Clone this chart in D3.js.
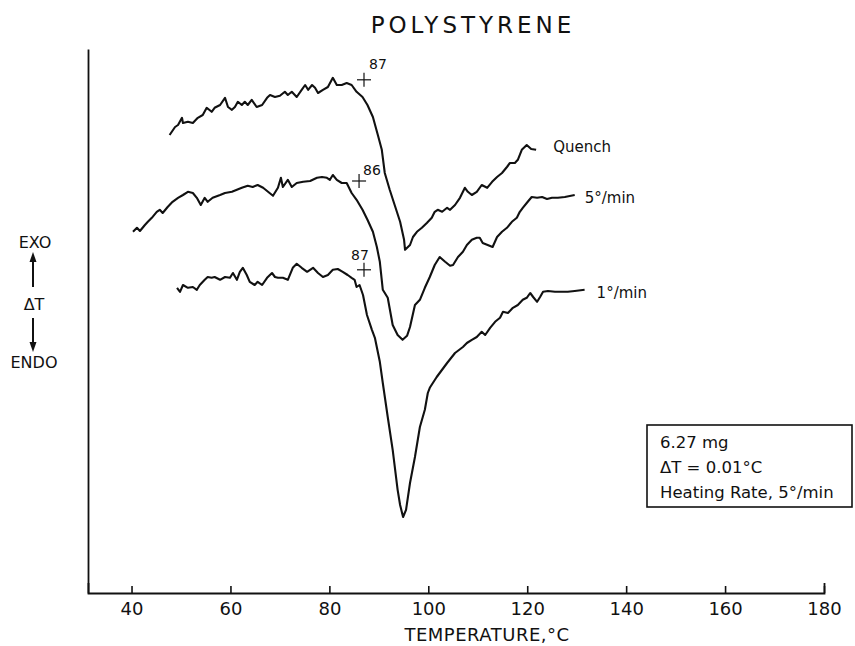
<!DOCTYPE html>
<html>
<head>
<meta charset="utf-8">
<script src="https://cdn.jsdelivr.net/npm/d3@7"></script>
<style>
  body { margin: 0; background: #fff; }
  svg text { font-family: "DejaVu Sans", sans-serif; fill: #111; }
</style>
</head>
<body>
<svg id="chart" width="855" height="646"></svg>
<script>
// temperature axis ticks (deg C)
var tempTicks = [40, 60, 80, 100, 120, 140, 160, 180];
var curveNames = ["Quench", "5\u00b0/min", "1\u00b0/min"];

// traces: [temperature degC, deflection (arbitrary chart units)]
var quench = [
  [47.7,114.5],[48.8,116.5],[49.4,117],[50.2,118.8],[50.4,117.5],[51.4,117.8],[52.4,117.5],
  [53.4,118.8],[54.4,119.5],[55.2,121.3],[56.2,120.3],[56.8,121.3],[57.9,122],[58.9,123.8],
  [59.5,121.5],[60.3,120.8],[60.9,121.5],[61.5,122.8],[62.3,122],[62.9,122.8],[63.5,122],
  [64.3,123.3],[65.3,121.5],[66.4,122],[67.4,123.8],[68.0,124.5],[69.0,124],[70.0,124.3],
  [71.0,125.3],[71.6,124.5],[72.4,125.3],[73.4,124],[74.4,125.8],[75.1,127],[75.7,125.8],
  [76.5,127],[77.1,126.3],[77.7,125],[78.7,125.8],[79.7,126.5],[80.7,128.8],[81.5,127],
  [82.5,127],[83.5,127.5],[84.5,127],[85.5,125.3],[86.7,124],[87.7,122],[88.8,119],
  [89.8,114.5],[90.6,110.8],[91.2,105],[92.2,100.8],[93.2,97],[94.3,92.8],[95.1,88.3],
  [95.3,85.8],[96.3,87],[96.9,89],[97.7,90.3],[98.7,91.3],[99.7,92.5],[100.7,93.8],
  [101.3,95.3],[101.9,95.8],[102.8,95.3],[103.8,96.3],[104.4,95.8],[105.4,97],[106.4,98.8],
  [107.4,101.3],[108.0,100.3],[108.8,99.5],[109.8,100.3],[110.8,102],[111.9,101.3],
  [112.9,102.8],[113.9,104],[114.9,105],[115.9,106.5],[116.5,107.5],[117.5,107.5],
  [118.1,108.3],[118.9,110.8],[119.9,112],[120.8,111],[121.8,110.8]
];
var rate5 = [
  [40.3,90.3],[41.1,91.3],[41.7,90.5],[42.7,92],[43.3,92.8],[44.1,93.8],[45.1,95.3],
  [45.7,95.8],[46.3,95],[47.3,96.5],[48.3,97.8],[49.4,98.8],[50.4,99.5],[51.4,100.3],
  [52.4,100],[53.2,98.8],[54.0,97],[54.8,98.8],[55.4,97.8],[56.4,98.8],[57.9,99.5],
  [58.9,100],[60.3,100.3],[61.3,100.8],[62.3,101.3],[63.5,101.8],[64.5,101.5],[65.5,102],
  [66.6,101.3],[67.6,100.3],[68.6,99.3],[69.6,101.3],[70.2,103.8],[70.6,101.5],[71.6,103.3],
  [72.4,101.5],[73.4,102.5],[74.7,102.8],[76.1,103],[77.5,103.8],[78.5,104],[79.5,103.8],
  [80.1,103.3],[80.7,104.5],[81.5,103.3],[82.5,102.5],[83.5,102.5],[84.5,100],[85.5,98.3],
  [86.7,95.8],[87.7,93.3],[88.8,90.3],[89.6,86.5],[90.2,82.8],[90.8,75.8],[91.8,73.8],
  [92.8,67],[93.8,64.5],[94.8,63.3],[95.7,64.3],[96.3,66.5],[97.3,72],[98.3,73.3],
  [99.3,76.3],[100.3,79],[101.3,82],[102.3,84],[103.4,82.8],[104.4,81.8],[105.0,82],
  [106.0,84],[107.0,85.3],[107.8,87],[108.8,88.3],[109.8,88.8],[110.4,88.8],[111.0,87.5],
  [112.0,87],[113.0,86.5],[113.9,89],[114.9,90.3],[115.9,91.3],[116.9,92.8],[117.9,93.8],
  [118.5,95.3],[119.1,96.3],[119.9,97.5],[120.9,99],[122.0,98.8],[123.0,99],[124.0,98.5],
  [125.0,98.8],[126.2,98.8],[127.6,99],[129.6,99.5]
];
var rate1 = [
  [49.2,76.3],[49.8,75.3],[50.4,77],[51.4,76.3],[52.4,76.5],[53.2,75.8],[53.8,77],
  [54.8,78.3],[55.4,79],[56.2,78.8],[56.8,79],[57.9,78.3],[58.9,79],[59.9,78.8],[60.5,80],
  [61.3,78.3],[61.9,80.3],[62.5,81.3],[63.3,79.5],[63.9,77.8],[64.9,77],[65.5,77.8],
  [66.4,77],[67.4,78.8],[68.4,80],[69.0,79],[69.6,78.8],[70.6,78.8],[71.6,78.3],[72.6,81.3],
  [73.4,82.3],[74.4,81.3],[75.5,80.3],[76.7,81.3],[77.7,80],[78.7,79],[79.7,79.5],
  [80.7,80.8],[81.7,81],[82.7,80.3],[83.7,79.5],[84.5,78.8],[85.1,78.3],[85.5,76.5],
  [86.1,77],[86.8,74.5],[87.6,69.5],[88.6,65.8],[89.2,63.8],[90.2,57.8],[90.8,52.5],
  [91.8,44],[92.8,35.8],[93.8,25.8],[94.3,22],[94.9,19],[95.5,20.8],[96.3,27.5],[97.3,34],
  [98.3,41.5],[99.3,45.8],[99.9,50],[100.3,51.3],[101.7,54],[103.8,57.5],[105.4,60],
  [107.0,61.5],[107.8,62.5],[108.8,63.3],[109.8,64],[110.8,65.3],[111.5,64.5],[112.5,66.3],
  [113.5,67.8],[114.5,68.8],[115.1,70.3],[116.1,70],[117.1,71.3],[118.1,72],[119.1,73.3],
  [119.9,73.8],[120.6,75],[121.2,74],[122.0,72.8],[122.6,74],[123.2,75.3],[124.2,75.5],
  [125.6,75.3],[127.0,75.3],[128.2,75.3],[129.6,75.5],[131.6,75.8]
];

// onset (Tg) marks
var onsetT = [87, 86, 87];
var onsetV = [128.3, 103, 80.8];

var infoLines = ["6.27 mg", "\u0394T = 0.01\u00b0C", "Heating Rate, 5\u00b0/min"];

var svg = d3.select("#chart");
var ink = "#111";

var x = d3.scaleLinear().domain([31.2, 180]).range([88, 824]);
var y = d3.scaleLinear().domain([0, 136]).range([593, 49]);

// axes
svg.append("g")
    .attr("transform", "translate(0,593)")
    .style("color", ink)
    .call(d3.axisBottom(x)
        .tickValues(tempTicks)
        .tickSizeInner(-7)
        .tickSizeOuter(-10)
        .tickPadding(9)
        .tickFormat(d3.format("d")))
    .attr("font-size", 18)
    .attr("font-family", "DejaVu Sans, sans-serif")
    .call(function(g) {
        g.select(".domain").attr("stroke-width", 1.8);
        g.selectAll(".tick line").attr("stroke-width", 1.6);
    });

svg.append("g")
    .attr("transform", "translate(88,0)")
    .style("color", ink)
    .call(d3.axisLeft(y).tickValues([]).tickSizeOuter(0))
    .call(function(g) { g.select(".domain").attr("stroke-width", 1.8); });

// traces
var line = d3.line()
    .x(function(d) { return x(d[0]); })
    .y(function(d) { return y(d[1]); });

var traces = [quench, rate5, rate1];
var nameOffset = [[17, 2], [10, 8], [12, 8]];

traces.forEach(function(data, i) {
    svg.append("path")
        .datum(data)
        .attr("fill", "none")
        .attr("stroke", ink)
        .attr("stroke-width", 2.1)
        .attr("stroke-linejoin", "round")
        .attr("d", line);

    var last = data[data.length - 1];
    svg.append("text")
        .attr("x", x(last[0]) + nameOffset[i][0])
        .attr("y", y(last[1]) + nameOffset[i][1])
        .attr("font-size", 15)
        .text(curveNames[i]);
});

// onset crosses + labels
var onsetLabelOffset = [[5, -11], [4, -6], [-13, -10]];
onsetT.forEach(function(t, i) {
    var cx = x(t), cy = y(onsetV[i]);
    svg.append("line").attr("x1", cx - 7).attr("x2", cx + 7).attr("y1", cy).attr("y2", cy)
        .attr("stroke", ink).attr("stroke-width", 1.2);
    svg.append("line").attr("x1", cx).attr("x2", cx).attr("y1", cy - 7).attr("y2", cy + 7)
        .attr("stroke", ink).attr("stroke-width", 1.2);
    svg.append("text")
        .attr("x", cx + onsetLabelOffset[i][0])
        .attr("y", cy + onsetLabelOffset[i][1])
        .attr("font-size", 14)
        .text(t);
});

// title and axis label
svg.append("text")
    .attr("x", 473).attr("y", 33)
    .attr("text-anchor", "middle")
    .attr("font-size", 23)
    .attr("letter-spacing", 4)
    .text("POLYSTYRENE");

svg.append("text")
    .attr("x", 487).attr("y", 641)
    .attr("text-anchor", "middle")
    .attr("font-size", 18)
    .attr("letter-spacing", 0.5)
    .text("TEMPERATURE,\u00b0C");

// EXO / dT / ENDO label with arrows
var side = svg.append("g");
side.append("text").attr("x", 35).attr("y", 248).attr("text-anchor", "middle").attr("font-size", 16).text("EXO");
side.append("text").attr("x", 34).attr("y", 310).attr("text-anchor", "middle").attr("font-size", 16).text("\u0394T");
side.append("text").attr("x", 34).attr("y", 368).attr("text-anchor", "middle").attr("font-size", 16).text("ENDO");
side.append("line").attr("x1", 33).attr("x2", 33).attr("y1", 287).attr("y2", 259).attr("stroke", ink).attr("stroke-width", 2);
side.append("path").attr("d", "M33,252L29.5,262L36.5,262Z").attr("fill", ink);
side.append("line").attr("x1", 33).attr("x2", 33).attr("y1", 318).attr("y2", 345).attr("stroke", ink).attr("stroke-width", 2);
side.append("path").attr("d", "M33,352L29.5,342L36.5,342Z").attr("fill", ink);

// sample info box
var box = svg.append("g").attr("transform", "translate(647,425)");
box.append("rect")
    .attr("width", 205).attr("height", 82)
    .attr("fill", "none").attr("stroke", ink).attr("stroke-width", 1.6);
infoLines.forEach(function(s, i) {
    box.append("text")
        .attr("x", 13).attr("y", 23 + i * 25)
        .attr("font-size", 16.5)
        .text(s);
});
</script>
</body>
</html>
